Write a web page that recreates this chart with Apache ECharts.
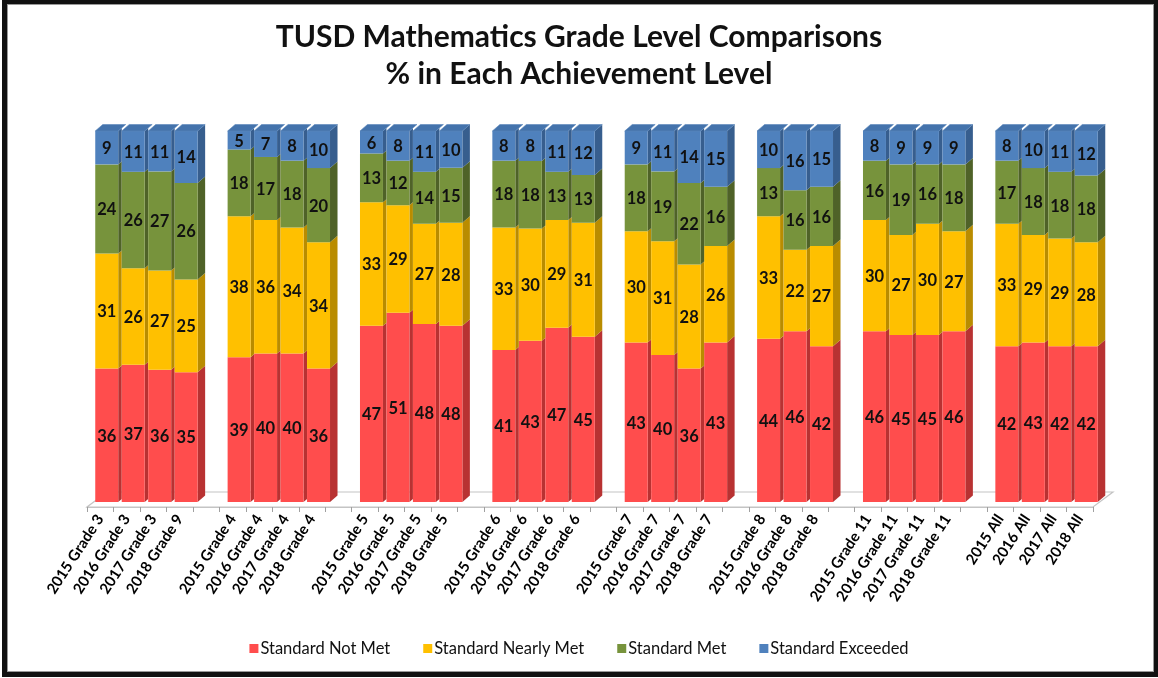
<!DOCTYPE html>
<html>
<head>
<meta charset="utf-8">
<script src="https://cdn.jsdelivr.net/npm/echarts@6/dist/echarts.min.js"></script>
<style>
html,body{margin:0;padding:0;background:#fff;}
#chart{position:absolute;left:0;top:0;width:1158px;height:678px;}
#frame{position:absolute;left:2px;top:0;width:1147px;height:668px;border-style:solid;border-color:#111;border-width:4px 4px 5px 5px;pointer-events:none;}
#inner{position:absolute;left:0;top:0;right:0;bottom:0;border:1px solid #999;}
</style>
</head>
<body>
<div id="chart"></div>
<div id="frame"><div id="inner"></div></div>
<script>
const categories = [
  '2015 Grade 3','2016 Grade 3','2017 Grade 3','2018 Grade 9','',
  '2015 Grade 4','2016 Grade 4','2017 Grade 4','2018 Grade 4','',
  '2015 Grade 5','2016 Grade 5','2017 Grade 5','2018 Grade 5','',
  '2015 Grade 6','2016 Grade 6','2017 Grade 6','2018 Grade 6','',
  '2015 Grade 7','2016 Grade 7','2017 Grade 7','2018 Grade 7','',
  '2015 Grade 8','2016 Grade 8','2018 Grade 8','',
  '2015 Grade 11','2016 Grade 11','2017 Grade 11','2018 Grade 11','',
  '2015 All','2016 All','2017 All','2018 All'
];
const notMet = [36,37,36,35,null, 39,40,40,36,null, 47,51,48,48,null, 41,43,47,45,null, 43,40,36,43,null, 44,46,42,null, 46,45,45,46,null, 42,43,42,42];
const nearlyMet = [31,26,27,25,null, 38,36,34,34,null, 33,29,27,28,null, 33,30,29,31,null, 30,31,28,26,null, 33,22,27,null, 30,27,30,27,null, 33,29,29,28];
const met = [24,26,27,26,null, 18,17,18,20,null, 13,12,14,15,null, 18,18,13,13,null, 18,19,22,16,null, 13,16,16,null, 16,19,16,18,null, 17,18,18,18];
const exceeded = [9,11,11,14,null, 5,7,8,10,null, 6,8,11,10,null, 8,8,11,12,null, 9,11,14,15,null, 10,16,15,null, 8,9,9,9,null, 8,10,11,12];

const levelNames = ['Standard Not Met','Standard Nearly Met','Standard Met','Standard Exceeded'];
const levelValues = [notMet, nearlyMet, met, exceeded];
const frontColors = ['#FF4D4D','#FFC000','#77933C','#4F81BD'];
const sideColors = ['#B83232','#B98C00','#4F6228','#375E8E'];
const topColor = '#4473AC';

// 3D geometry (pixels)
const SHIFT_X = 6.5, SHIFT_Y = -5, DEPTH_X = 7.5, DEPTH_Y = 6.5;

// build stacked (100% normalized) data
const seriesData = levelValues.map(() => []);
categories.forEach((c, i) => {
  if (notMet[i] == null) return;
  const sum = levelValues.reduce((s, arr) => s + arr[i], 0);
  let base = 0;
  levelValues.forEach((arr, k) => {
    const v = arr[i] / sum * 100;
    seriesData[k].push([i, base, base + v, arr[i]]);
    base += v;
  });
});

function makeRender(k) {
  return function (params, api) {
    const ci = api.value(0), lo = api.value(1), hi = api.value(2), raw = api.value(3);
    const pb = api.coord([ci, lo]);
    const pt = api.coord([ci, hi]);
    const slot = api.size([1, 0])[0];
    const w = slot * 0.868;
    const cx = pb[0] + SHIFT_X;
    const x0 = cx - w / 2, x1 = cx + w / 2;
    const yb = pb[1] + SHIFT_Y, yt = pt[1] + SHIFT_Y;
    const nextIsBar = ci + 1 < categories.length && categories[ci + 1] !== '';
    const dxs = nextIsBar ? (slot - w) : DEPTH_X;
    const dys = DEPTH_Y * dxs / DEPTH_X;
    const children = [
      {type: 'polygon', shape: {points: [[x1, yb], [x1 + dxs, yb - dys], [x1 + dxs, yt - dys], [x1, yt]]},
       style: {fill: sideColors[k]}},
      {type: 'rect', shape: {x: x0, y: yt, width: w, height: yb - yt}, style: {fill: frontColors[k]}}
    ];
    if (k === 3) {
      children.push({type: 'polygon', shape: {points: [[x0, yt], [x0 + DEPTH_X, yt - DEPTH_Y], [x1 + DEPTH_X, yt - DEPTH_Y], [x1, yt]]},
        style: {fill: topColor, stroke: '#5b86bb', lineWidth: 0.6}});
    }
    children.push({type: 'text', style: {text: String(raw), x: cx, y: (yb + yt) / 2 + 1,
      align: 'center', verticalAlign: 'middle', textAlign: 'center', textVerticalAlign: 'middle',
      font: 'bold 16.5px Lato', fill: '#111'}});
    return {type: 'group', children: children};
  };
}

const series = levelNames.map((name, k) => ({
  name: name,
  type: 'custom',
  renderItem: makeRender(k),
  data: seriesData[k],
  itemStyle: {color: frontColors[k]},
  encode: {x: 0, y: [1, 2]},
  z: 3
}));

// floor
series.unshift({
  name: 'floor',
  type: 'custom',
  silent: true,
  z: 1,
  data: [[0]],
  renderItem: function (params, api) {
    const cs = params.coordSys;
    const yf = cs.y + cs.height;
    const xl = cs.x, xr = cs.x + cs.width;
    const dx = 20, dy = 15;
    return {type: 'polygon', shape: {points: [[xl, yf], [xr, yf], [xr + dx, yf - dy], [xl + dx, yf - dy]]},
      style: {fill: '#fff', stroke: '#c4c4c4', lineWidth: 1.2}};
  }
});

const chart = echarts.init(document.getElementById('chart'), null, {renderer: 'canvas'});
chart.setOption({
  backgroundColor: '#fff',
  animation: false,
  color: frontColors,
  title: {
    text: 'TUSD Mathematics Grade Level Comparisons\n% in Each Achievement Level',
    left: 'center',
    top: 14,
    textStyle: {fontFamily: 'Lato', fontWeight: 'bold', fontSize: 30, lineHeight: 37, color: '#111'}
  },
  legend: {
    data: levelNames,
    bottom: 16,
    left: 'center',
    icon: 'rect',
    itemWidth: 9,
    itemHeight: 9,
    itemGap: 33,
    textStyle: {fontFamily: 'Lato', fontSize: 16.5, color: '#111', padding: [0, 0, 0, -3]}
  },
  grid: {left: 87, right: 65, top: 136, bottom: 171, containLabel: false},
  xAxis: {
    type: 'category',
    data: categories,
    boundaryGap: true,
    axisLine: {show: true, lineStyle: {color: '#c4c4c4', width: 1.2}},
    axisTick: {show: true, interval: 0, length: 5, lineStyle: {color: '#a0a0a0'}},
    axisLabel: {interval: 0, rotate: 57, margin: 9, fontFamily: 'Lato', fontWeight: 'bold', fontSize: 15, color: '#000'},
    z: 2
  },
  yAxis: {type: 'value', min: 0, max: 100, show: false, splitLine: {show: false}},
  series: series
});
</script>
</body>
</html>
